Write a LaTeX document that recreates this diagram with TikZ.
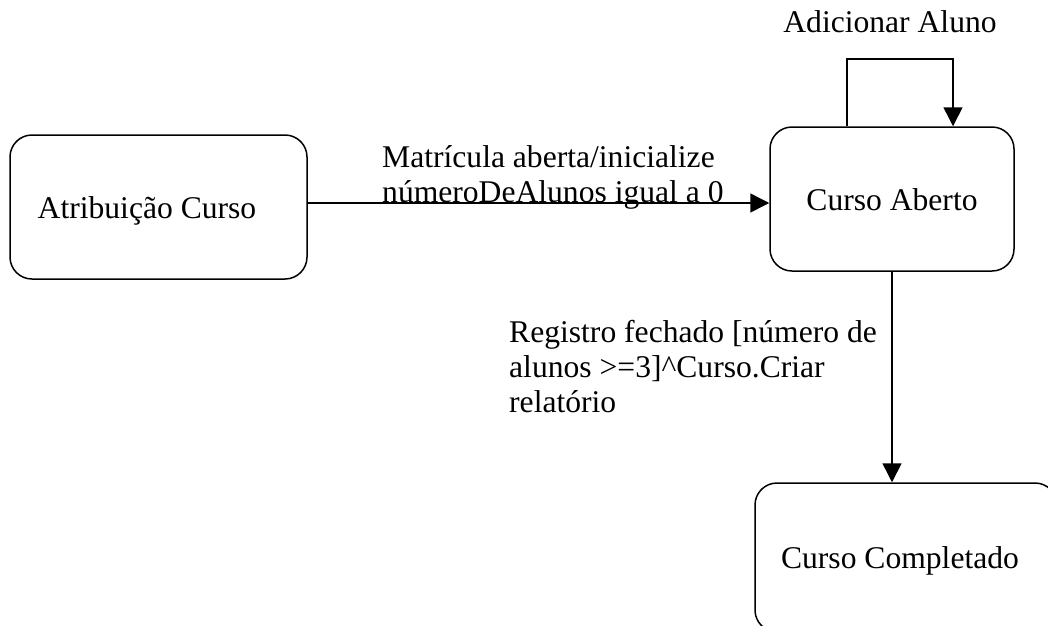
\documentclass[tikz,border=0pt]{standalone}
\usepackage{fontspec}
\setmainfont{Liberation Serif}
\usetikzlibrary{arrows.meta}
\begin{document}
\begin{tikzpicture}[x=1pt,y=-1pt,
  state/.style={draw, line width=1.5pt, rounded corners=22pt, inner sep=0pt,
    font=\fontsize{31.6}{35}\selectfont, text height=23pt, text depth=1pt},
  lbl/.style={inner sep=0pt, font=\fontsize{31.6}{35}\selectfont, align=left},
  tr/.style={line width=1.5pt, -{Triangle[length=19pt,width=19pt]}}]
\useasboundingbox (0,0) rectangle (1048,625);
\clip (0,0) rectangle (1048,625);
\node[state, minimum width=297pt, minimum height=144pt] (ac) at (158.5,207) {Atribuição Curso\kern23pt};
\node[state, minimum width=244pt, minimum height=144pt] (ca) at (892,199) {Curso Aberto};
\node[state, minimum width=302pt, minimum height=149pt] (cc) at (906,557.5) {Curso Completado\kern12pt};
\coordinate (lt) at (953,59);
\draw[tr] ([yshift=4pt]ac.east) -- ([yshift=4pt]ac.east -| ca.west);
\draw[tr] (ca.south) -- (ca.south |- cc.north);
\draw[tr] ([xshift=-45pt]ca.north) -- ([xshift=-45pt]ca.north |- lt) -- (lt) -- (lt |- ca.north);
\node[lbl, anchor=base] (la) at (890,32) {Adicionar Aluno};
\node[lbl, anchor=base west] (lm) at (382,202) {Matrícula aberta/inicialize\\númeroDeAlunos igual a 0};
\node[lbl, anchor=base west] (lr) at (509,412) {Registro fechado [número de\\alunos >=3]\^{}Curso.Criar\\relatório};
\end{tikzpicture}
\end{document}
